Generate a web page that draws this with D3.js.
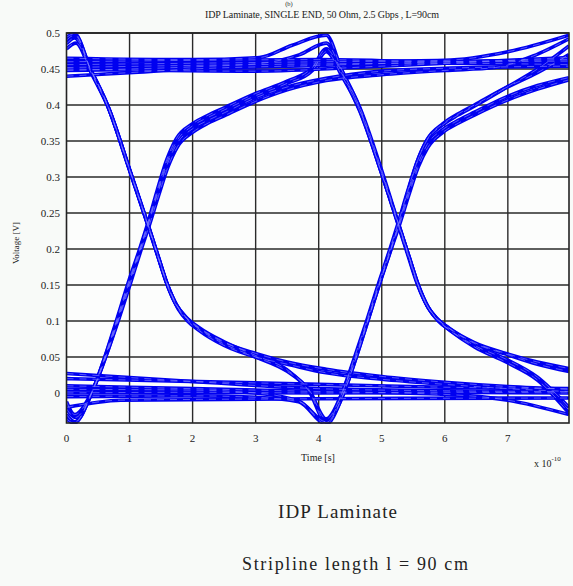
<!DOCTYPE html>
<head>
  <meta charset="utf-8">
  <script src="https://d3js.org/d3.v7.min.js"></script>
  <style>
    body { margin:0; background:#f8faf8; }
    text { font-family:"Liberation Serif","DejaVu Serif",serif; fill:#222; }
  </style>
</head>

<body>
  <div id=figure></div>
  <script>
    // time in units of 1e-10 s, voltage in V
    var yTicks = [0, 0.05, 0.1, 0.15, 0.2, 0.25, 0.3, 0.35, 0.4, 0.45, 0.5];
    var yTickLabels = ["0", "0.05", "0.1", "0.15", "0.2", "0.25", "0.3", "0.35", "0.4", "0.45", "0.5"];
    var xTicks = [0, 1, 2, 3, 4, 5, 6, 7];

    // eye diagram traces, [t, v]
    var tr1000a = [[0,0.49],[0.13,0.497],[0.38,0.45],[0.65,0.40],[1.0,0.31],[1.3,0.231],[1.45,0.19],[1.6,0.15],[1.75,0.121],[1.9,0.104],[2.1,0.09],[2.5,0.07],[3.0,0.055],[3.5,0.043],[4.12,0.033],[5.0,0.023],[6.0,0.015],[7.0,0.009],[7.97,0.005]];
    var tr1000b = [[0,0.478],[0.15,0.486],[0.4,0.443],[0.68,0.393],[1.02,0.305],[1.31,0.229],[1.46,0.188],[1.61,0.147],[1.77,0.117],[1.92,0.1],[2.1,0.087],[2.5,0.066],[3.0,0.05],[3.5,0.04],[4.12,0.028],[5.0,0.019],[6.0,0.012],[7.0,0.006],[7.97,0.002]];
    var tr1011 = [[0,0.485],[0.13,0.493],[0.39,0.447],[0.66,0.397],[1.01,0.308],[1.3,0.232],[1.45,0.191],[1.6,0.151],[1.76,0.12],[1.91,0.103],[2.1,0.089],[2.5,0.068],[3.0,0.05],[3.5,0.03],[3.85,0.004],[4.12,-0.036],[4.38,0.002],[4.58,0.05],[4.77,0.1],[4.97,0.155],[5.14,0.2],[5.27,0.234],[5.42,0.277],[5.57,0.317],[5.72,0.345],[5.97,0.366],[6.22,0.379],[6.47,0.39],[6.97,0.411],[7.47,0.427],[7.97,0.438]];
    var tr1010 = [[0,0.494],[0.13,0.499],[0.37,0.452],[0.64,0.402],[0.99,0.312],[1.29,0.233],[1.44,0.192],[1.59,0.153],[1.74,0.123],[1.89,0.106],[2.1,0.091],[2.5,0.071],[3.0,0.052],[3.5,0.032],[3.85,0.002],[4.12,-0.041],[4.37,0.0],[4.57,0.05],[4.76,0.1],[4.96,0.155],[5.13,0.2],[5.26,0.236],[5.41,0.28],[5.56,0.321],[5.71,0.35],[5.96,0.372],[6.21,0.386],[6.46,0.398],[6.97,0.424],[7.47,0.45],[7.97,0.482]];
    var tr0111 = [[0,-0.03],[0.13,-0.04],[0.4,0.0],[0.61,0.05],[0.8,0.1],[1.0,0.155],[1.17,0.2],[1.3,0.235],[1.45,0.278],[1.6,0.318],[1.75,0.346],[2.0,0.367],[2.25,0.379],[2.5,0.389],[3.0,0.41],[3.5,0.425],[4.12,0.437],[5.0,0.447],[6.0,0.451],[7.0,0.453],[7.97,0.454]];
    var tr0110 = [[0,-0.022],[0.14,-0.034],[0.42,0.004],[0.63,0.052],[0.82,0.1],[1.02,0.154],[1.18,0.198],[1.31,0.232],[1.46,0.274],[1.61,0.314],[1.76,0.342],[2.0,0.362],[2.25,0.375],[2.5,0.385],[3.0,0.405],[3.5,0.421],[4.12,0.434],[5.0,0.442],[6.0,0.448],[6.8,0.452],[7.4,0.468],[7.97,0.492]];
    var tr0100 = [[0,-0.012],[0.13,-0.03],[0.41,0.003],[0.62,0.05],[0.81,0.1],[1.01,0.156],[1.18,0.202],[1.3,0.236],[1.45,0.281],[1.6,0.322],[1.75,0.35],[2.0,0.371],[2.25,0.383],[2.5,0.393],[3.0,0.413],[3.5,0.43],[3.9,0.448],[4.12,0.474],[4.37,0.44],[4.64,0.395],[4.99,0.307],[5.28,0.23],[5.43,0.19],[5.58,0.15],[5.73,0.12],[5.88,0.103],[6.08,0.089],[6.47,0.069],[6.97,0.054],[7.47,0.04],[7.97,0.03]];
    var tr0101 = [[0,-0.036],[0.12,-0.042],[0.39,-0.002],[0.6,0.048],[0.79,0.1],[0.99,0.156],[1.16,0.2],[1.29,0.236],[1.44,0.282],[1.59,0.324],[1.74,0.353],[2.0,0.374],[2.25,0.386],[2.5,0.396],[3.0,0.416],[3.5,0.433],[3.9,0.452],[4.12,0.478],[4.37,0.443],[4.65,0.392],[5.0,0.305],[5.29,0.228],[5.44,0.187],[5.59,0.147],[5.75,0.117],[5.9,0.1],[6.08,0.087],[6.47,0.064],[6.97,0.043],[7.47,0.018],[7.97,-0.028]];
    var tr1111a = [[0,0.46],[2,0.462],[4,0.463],[6,0.46],[7.97,0.461]];
    var tr1111b = [[0,0.452],[2,0.455],[4,0.457],[6,0.458],[7.97,0.456]];
    var tr1111c = [[0,0.44],[1,0.445],[2,0.45],[4,0.455],[6,0.46],[7.97,0.463]];
    var tr1111d = [[0,0.45],[3,0.447],[5,0.454],[7.97,0.466]];
    var tr1100 = [[0,0.465],[2.0,0.463],[3.06,0.466],[3.58,0.483],[4.12,0.497],[4.36,0.45],[4.63,0.40],[4.98,0.31],[5.27,0.231],[5.42,0.19],[5.57,0.15],[5.72,0.121],[5.87,0.104],[6.07,0.09],[6.47,0.07],[6.97,0.055],[7.47,0.043],[7.97,0.034]];
    var tr1101 = [[0,0.448],[2.0,0.453],[3.1,0.458],[3.7,0.47],[4.12,0.486],[4.37,0.445],[4.65,0.397],[5.0,0.309],[5.28,0.231],[5.43,0.19],[5.58,0.149],[5.74,0.118],[5.89,0.101],[6.07,0.088],[6.47,0.066],[6.97,0.047],[7.47,0.022],[7.97,-0.02]];
    var tr1110 = [[0,0.456],[2,0.458],[4,0.46],[6,0.462],[7.0,0.474],[7.97,0.497]];
    var tr0000a = [[0,0.0],[2,0.001],[4,0.0],[6,0.001],[7.97,0.0]];
    var tr0000b = [[0,0.027],[2,0.016],[4,0.006],[6,0.003],[7.97,0.002]];
    var tr0000c = [[0,-0.02],[0.86,-0.01],[4,-0.008],[7.97,-0.007]];
    var tr0000d = [[0,0.02],[4,0.012],[6,0.008],[7.97,0.006]];
    var tr0011 = [[0,0.005],[2,0.004],[3.0,0.0],[3.7,-0.012],[4.12,-0.04],[4.39,-0.002],[4.59,0.048],[4.78,0.1],[4.98,0.156],[5.15,0.2],[5.28,0.233],[5.43,0.275],[5.58,0.314],[5.73,0.341],[5.97,0.362],[6.22,0.375],[6.47,0.386],[6.97,0.406],[7.47,0.422],[7.97,0.435]];
    var tr0010 = [[0,-0.005],[2,-0.004],[3.0,-0.006],[3.68,-0.012],[4.12,-0.043],[4.38,-0.004],[4.58,0.046],[4.77,0.098],[4.97,0.153],[5.14,0.198],[5.27,0.235],[5.42,0.281],[5.57,0.323],[5.72,0.352],[5.97,0.374],[6.22,0.388],[6.47,0.4],[6.97,0.424],[7.47,0.445],[7.97,0.47]];
    var tr0001 = [[0,0.01],[2,0.006],[4,0.002],[6,-0.002],[7,-0.01],[7.97,-0.03]];

    var traces = [tr1111a, tr1111b, tr1111c, tr1111d, tr1110, tr0000a, tr0000b, tr0000c, tr0000d, tr0001,
                  tr1000a, tr1000b, tr1011, tr1010, tr0111, tr0110, tr0100, tr0101, tr1100, tr1101, tr0011, tr0010];

    var width = 573, height = 586;
    var margin = {top: 33, right: 4, bottom: 163, left: 66.5};
    var w = width - margin.left - margin.right;
    var h = height - margin.top - margin.bottom;

    var svg = d3.select("#figure").append("svg")
      .attr("width", width)
      .attr("height", height);

    var x = d3.scaleLinear().domain([0, 7.97]).range([margin.left, margin.left + w]);
    var y = d3.scaleLinear().domain([-0.0417, 0.5]).range([margin.top + h, margin.top]);

    svg.append("rect")
      .attr("x", x(0)).attr("y", y(0.5))
      .attr("width", x(7.97) - x(0)).attr("height", y(-0.0417) - y(0.5))
      .attr("fill", "#fcfdfc");

    // grid
    svg.append("g").selectAll("line").data(yTicks).enter().append("line")
      .attr("x1", x(0)).attr("x2", x(7.97))
      .attr("y1", function(d) { return y(d); })
      .attr("y2", function(d) { return y(d); })
      .attr("stroke", "#2a2a2a").attr("stroke-width", 1.4);

    svg.append("g").selectAll("line").data(xTicks.slice(1)).enter().append("line")
      .attr("y1", y(0.5)).attr("y2", y(-0.0417))
      .attr("x1", function(d) { return x(d); })
      .attr("x2", function(d) { return x(d); })
      .attr("stroke", "#2a2a2a").attr("stroke-width", 1.4);

    // traces
    var line = d3.line()
      .x(function(d) { return x(d[0]); })
      .y(function(d) { return y(d[1]); })
      .curve(d3.curveMonotoneX);

    svg.append("clipPath").attr("id", "plotclip").append("rect")
      .attr("x", x(0)).attr("y", y(0.5) - 1)
      .attr("width", x(7.97) - x(0)).attr("height", y(-0.0417) - y(0.5) + 2);

    var gTr = svg.append("g").attr("clip-path", "url(#plotclip)");
    gTr.selectAll(".outer").data(traces).enter().append("path")
      .attr("class", "outer")
      .attr("d", line)
      .attr("fill", "none")
      .attr("stroke", "#0000f0")
      .attr("stroke-width", 3.6);
    gTr.selectAll(".inner").data(traces).enter().append("path")
      .attr("class", "inner")
      .attr("d", line)
      .attr("fill", "none")
      .attr("stroke", "#7b7bff")
      .attr("stroke-width", 0.7)
      .attr("stroke-dasharray", "7,6");

    // frame
    svg.append("rect")
      .attr("x", x(0)).attr("y", y(0.5))
      .attr("width", x(7.97) - x(0)).attr("height", y(-0.0417) - y(0.5))
      .attr("fill", "none").attr("stroke", "#222").attr("stroke-width", 1.6);

    // tick labels
    svg.append("g").selectAll("text").data(yTicks).enter().append("text")
      .attr("x", 60)
      .attr("y", function(d) { return y(d) + 4; })
      .attr("text-anchor", "end")
      .attr("font-size", 11)
      .text(function(d, i) { return yTickLabels[i]; });

    svg.append("g").selectAll("text").data(xTicks).enter().append("text")
      .attr("x", function(d) { return x(d); })
      .attr("y", 442)
      .attr("text-anchor", "middle")
      .attr("font-size", 11)
      .text(function(d) { return d; });

    // titles
    svg.append("text")
      .attr("x", 289).attr("y", 6)
      .attr("text-anchor", "middle")
      .attr("font-size", 6.5)
      .text("(b)");

    svg.append("text")
      .attr("x", 205).attr("y", 18)
      .attr("font-size", 10)
      .attr("textLength", 234)
      .text("IDP Laminate, SINGLE END, 50 Ohm, 2.5  Gbps , L=90cm");

    svg.append("text")
      .attr("transform", "translate(19,243) rotate(-90)")
      .attr("text-anchor", "middle")
      .attr("font-size", 9)
      .text("Voltage [V]");

    svg.append("text")
      .attr("x", 318).attr("y", 461)
      .attr("text-anchor", "middle")
      .attr("font-size", 10)
      .text("Time [s]");

    var sci = svg.append("text")
      .attr("x", 534).attr("y", 467)
      .attr("font-size", 10);
    sci.append("tspan").text("x 10");
    sci.append("tspan").attr("dy", -6).attr("font-size", 7).text("-10");

    svg.append("text")
      .attr("x", 278).attr("y", 518)
      .attr("font-size", 19)
      .attr("textLength", 119)
      .text("IDP Laminate");

    svg.append("text")
      .attr("x", 242).attr("y", 570)
      .attr("font-size", 18)
      .attr("textLength", 226)
      .text("Stripline length  l = 90 cm");
  </script>
</body>
